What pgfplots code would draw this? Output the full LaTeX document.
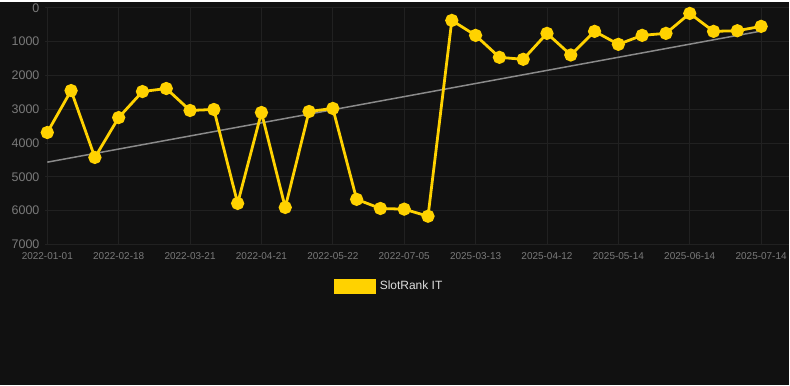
\documentclass[border=0pt]{standalone}
\usepackage{pgfplots}
\pgfplotsset{compat=1.18}
\usepackage{fontspec}
\setmainfont{Liberation Sans}
\definecolor{bg}{HTML}{111111}
\definecolor{gridc}{HTML}{212121}
\definecolor{tickc}{HTML}{7A7A7A}
\definecolor{gold}{HTML}{FFD200}
\definecolor{trend}{HTML}{8A8A8A}
\definecolor{legc}{HTML}{DDDDDD}
\begin{document}
\begin{tikzpicture}[x=1pt,y=1pt]
\fill[bg] (0,0) rectangle (790,384);
\begin{axis}[
  at={(45pt,141pt)}, anchor=south west,
  scale only axis, width=745pt, height=237pt,
  xmin=-0.1, xmax=31.15,
  ymin=0, ymax=7000, y dir=reverse,
  ytick={0,1000,...,7000},
  xtick={0,3,...,30},
  xticklabels={2022-01-01,2022-02-18,2022-03-21,2022-04-21,2022-05-22,2022-07-05,2025-03-13,2025-04-12,2025-05-14,2025-06-14,2025-07-14},
  scaled y ticks=false,
  /pgf/number format/assume math mode=true,
  yticklabel style={font=\fontsize{12.5}{14}\selectfont, text=tickc, xshift=-2pt},
  xticklabel style={font=\fontsize{10}{12}\selectfont, text=tickc, yshift=-5pt},
  yticklabel={\pgfmathprintnumber[fixed,set thousands separator={}]{\tick}},
  major tick length=0pt,
  grid=major,
  major grid style={gridc, line width=0.8pt},
  axis line style={draw=none},
  legend style={at={(0.463,-0.177)}, anchor=center, draw=none, fill=none,
    text=legc, font=\fontsize{12}{14}\selectfont},
  legend image code/.code={\fill[gold] (0pt,-6pt) rectangle (39pt,6pt);},
  clip=false,
]
\addplot[trend, line width=1.5pt, forget plot] coordinates {(0,4570) (30,690)};
\addplot[gold, line width=2.8pt, mark=*, mark size=5.2pt, mark options={fill=gold, draw=none}] coordinates {
(0,3692) (1,2451) (2,4430) (3,3250) (4,2480) (5,2390) (6,3040) (7,3010) (8,5790) (9,3100)
(10,5910) (11,3070) (12,2980) (13,5670) (14,5940) (15,5960) (16,6170) (17,375) (18,818) (19,1467)
(20,1526) (21,758) (22,1398) (23,699) (24,1083) (25,817) (26,758) (27,168) (28,699) (29,680) (30,551)
};
\addlegendentry{\hspace{2pt}SlotRank IT}
\end{axis}
\end{tikzpicture}
\end{document}
